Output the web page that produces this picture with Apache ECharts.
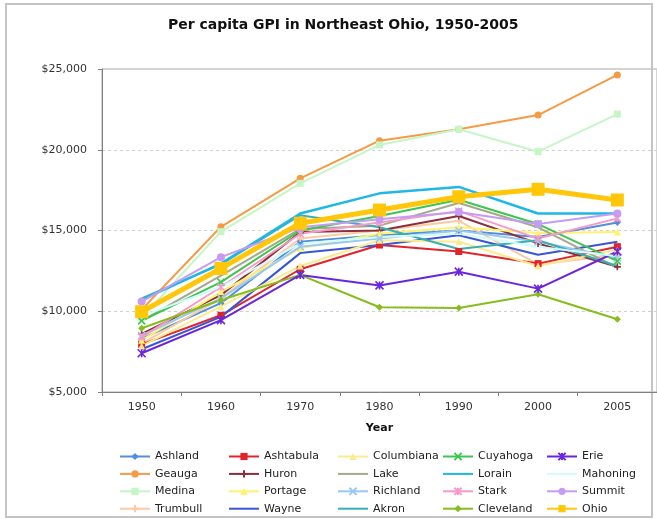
<!DOCTYPE html>
<html>
<head>
<meta charset="utf-8">
<title>Per capita GPI in Northeast Ohio</title>
<script src="https://cdn.jsdelivr.net/npm/echarts@6/dist/echarts.min.js"></script>
<style>
  html, body { margin: 0; padding: 0; background: #fff; }
  #chart { width: 657px; height: 519px; }
</style>
</head>
<body>
<div id="chart"></div>
<script>
// x categories
const years = ["1950", "1960", "1970", "1980", "1990", "2000", "2005"];

// per capita GPI (dollars)
const ashland = [8300, 10500, 14300, 14700, 15000, 14600, 15500];
const ashtabula = [7950, 9750, 12600, 14100, 13700, 12950, 14000];
const columbiana = [7850, 10300, 12800, 14400, 14300, 12800, 13800];
const cuyahoga = [9400, 11800, 15000, 15900, 16900, 15400, 13100];
const erie = [7400, 9450, 12250, 11600, 12450, 11400, 13700];
const geauga = [10100, 15230, 18230, 20560, 21270, 22150, 24630];
const huron = [8600, 11000, 14900, 15000, 15900, 14200, 12750];
const lake = [9400, 12200, 15100, 15300, 16700, 15200, 12700];
const lorain = [10700, 12950, 16050, 17300, 17700, 16050, 16050];
const mahoning = [9700, 11500, 14200, 14600, 14800, 14000, 13400];
const medina = [9600, 14930, 17920, 20300, 21270, 19880, 22210];
const portage = [8200, 11200, 13900, 14800, 15200, 14850, 14900];
const richland = [8500, 10800, 14000, 14500, 15000, 14300, 13300];
const stark = [8400, 11500, 14800, 15500, 16200, 14500, 15750];
const summit = [10600, 13350, 15200, 15700, 16150, 15400, 16050];
const trumbull = [8000, 10800, 14500, 15000, 15600, 12900, 13500];
const wayne = [7650, 9650, 13600, 14100, 14700, 13500, 14300];
const akron = [10800, 12900, 15950, 15200, 13850, 14400, 12800];
const cleveland = [8950, 10700, 12250, 10250, 10200, 11050, 9500];
const ohio = [9970, 12650, 15450, 16270, 17090, 17550, 16890];

// y axis
const yMin = 5000;
const yMax = 25000;
const yStep = 5000;

// marker paths (line-only shapes, drawn by their stroke)
const crossPath = "path://M0,0L10,10M10,0L0,10";
const plusPath = "path://M5,0L5,10M0,5L10,5";
const starPath = "path://M0,0L10,10M10,0L0,10M5,0L5,10";

// name, data, colour, symbol, symbol size, line width
// listed column by column, the way the legend reads
const seriesDefs = [
  ["Ashland", ashland, "#4f8fdc", "diamond", 7, 2],
  ["Geauga", geauga, "#f59a45", "circle", 7, 2],
  ["Medina", medina, "#c6f5c6", "rect", 7, 2],
  ["Trumbull", trumbull, "#fcc9a3", plusPath, 7, 2],
  ["Ashtabula", ashtabula, "#e0242c", "rect", 7, 2],
  ["Huron", huron, "#8a2f3c", plusPath, 7, 2],
  ["Portage", portage, "#fff36e", "triangle", 7, 2],
  ["Wayne", wayne, "#3a55d6", "none", 0, 2],
  ["Columbiana", columbiana, "#fbeb8e", "triangle", 7, 2],
  ["Lake", lake, "#a3a98a", "none", 0, 2],
  ["Richland", richland, "#9ac8f5", crossPath, 7, 2],
  ["Akron", akron, "#36b0b0", "none", 0, 2],
  ["Cuyahoga", cuyahoga, "#3cc64e", crossPath, 7, 2],
  ["Lorain", lorain, "#1fb8e6", "none", 0, 2.5],
  ["Stark", stark, "#f79ac9", starPath, 7, 2],
  ["Cleveland", cleveland, "#86bd1e", "diamond", 7, 2],
  ["Erie", erie, "#6a25dd", starPath, 8, 2],
  ["Mahoning", mahoning, "#d2fbfb", "none", 0, 2],
  ["Summit", summit, "#c69cf2", "circle", 8, 2],
  ["Ohio", ohio, "#ffc60a", "rect", 13, 5]
];

const series = seriesDefs.map(d => {
  const isPath = d[3].indexOf("path://") === 0;
  return {
    name: d[0],
    type: "line",
    data: d[1],
    symbol: d[3],
    symbolSize: d[4],
    showSymbol: d[3] !== "none",
    z: d[0] === "Ohio" ? 5 : 2,
    lineStyle: { color: d[2], width: d[5] },
    itemStyle: isPath
      ? { color: "rgba(0,0,0,0)", borderColor: d[2], borderWidth: 1.6 }
      : { color: d[2], borderColor: d[2], borderWidth: 0 },
    emphasis: { disabled: true }
  };
});

// 5 legend columns, 4 rows each
const legendCols = [114, 223, 332, 437, 541];
const legends = legendCols.map((x, i) => ({
  orient: "vertical",
  left: x,
  top: 445,
  height: 68,
  itemWidth: 30,
  itemHeight: 9,
  itemGap: 4.4,
  selectedMode: false,
  textStyle: { fontFamily: "DejaVu Sans", fontSize: 11, lineHeight: 13, color: "#222" },
  data: seriesDefs.slice(i * 4, i * 4 + 4).map(d => {
    // no marker in the legend for plain lines
    if (d[3] === "none") {
      return { name: d[0], itemStyle: { opacity: 0 } };
    }
    return { name: d[0] };
  })
}));

const chart = echarts.init(document.getElementById("chart"), null, { renderer: "canvas" });
chart.setOption({
  animation: false,
  backgroundColor: "#fff",
  title: {
    text: "Per capita GPI in Northeast Ohio, 1950-2005",
    left: 163,
    top: 13,
    textStyle: { fontFamily: "DejaVu Sans", fontSize: 14, fontWeight: "bold", color: "#111" }
  },
  graphic: [
    {
      type: "rect",
      shape: { x: 6, y: 4, width: 646, height: 513 },
      style: { fill: "none", stroke: "#c4c4c4", lineWidth: 2 },
      silent: true
    }
  ],
  legend: legends,
  grid: {
    left: 102,
    top: 69,
    width: 560,
    height: 323,
    show: true,
    borderColor: "#a8a8a8",
    borderWidth: 1
  },
  xAxis: {
    type: "category",
    data: years,
    boundaryGap: true,
    name: "Year",
    nameLocation: "middle",
    nameGap: 31,
    nameTextStyle: { fontFamily: "DejaVu Sans", fontSize: 11, fontWeight: "bold", color: "#111" },
    axisLine: { lineStyle: { color: "#808080", width: 1 } },
    axisTick: { show: true, length: 4, lineStyle: { color: "#808080" } },
    axisLabel: { fontFamily: "DejaVu Sans", fontSize: 11, color: "#333", margin: 10 },
    splitLine: { show: false }
  },
  yAxis: {
    type: "value",
    min: yMin,
    max: yMax,
    interval: yStep,
    axisLine: { show: true, lineStyle: { color: "#808080", width: 1 } },
    axisTick: { show: true, length: 4, lineStyle: { color: "#808080" } },
    axisLabel: {
      fontFamily: "DejaVu Sans",
      fontSize: 11,
      color: "#333",
      margin: 15,
      formatter: v => "$" + v.toLocaleString("en-US")
    },
    splitLine: { show: true, lineStyle: { color: "#d0d0d0", type: [3, 3] } }
  },
  series: series
});
</script>
</body>
</html>
